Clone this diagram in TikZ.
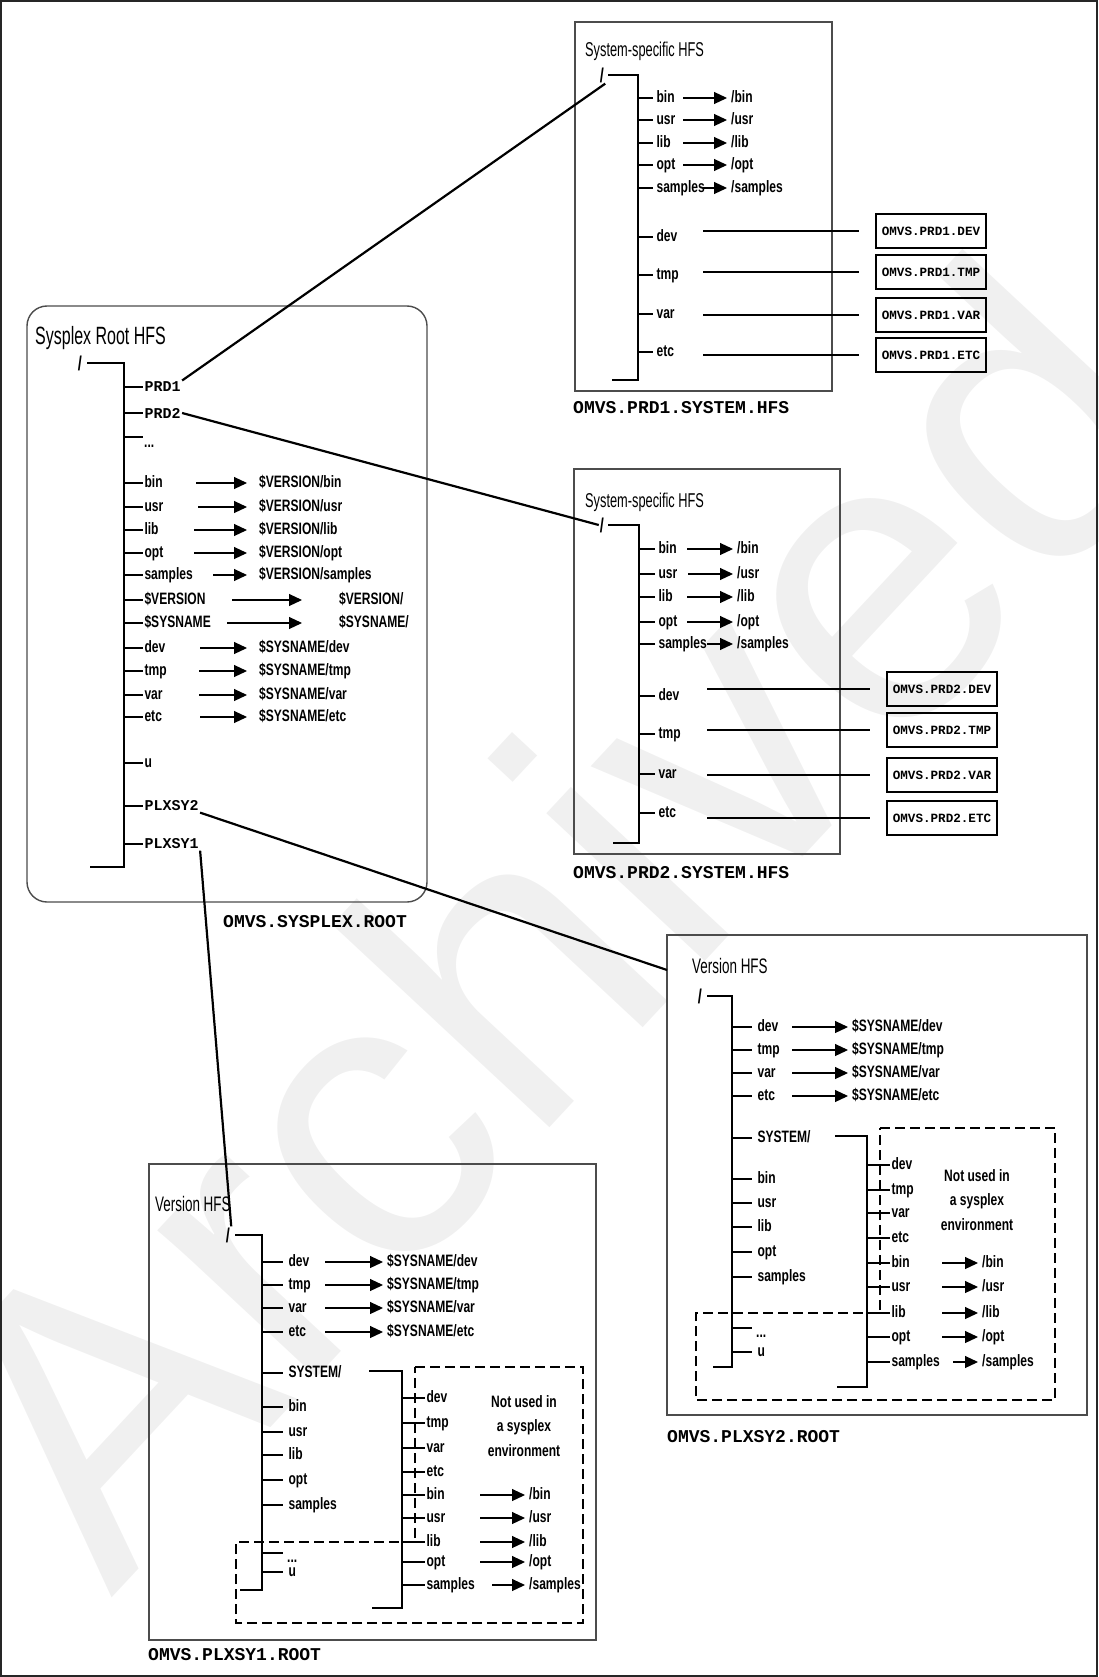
\documentclass[tikz,border=0pt]{standalone}
\usepackage{fontspec}
\setmonofont{Liberation Mono}
\newfontfamily\narrowsf[FakeStretch=0.73]{Liberation Sans}
\newfontfamily\handsf[FakeStretch=0.64]{Liberation Sans}
\newfontfamily\marksf{Liberation Sans}
\usetikzlibrary{arrows.meta}

\begin{document}
\begin{tikzpicture}[
  x=1pt, y=-1pt,
  hfsframe/.style={draw=black!70, line width=1.4pt},
  trunk/.style={line width=2.6pt},
  twig/.style={line width=1.1pt},
  mountline/.style={line width=2.2pt},
  arr/.style={-{Triangle[length=13pt,width=12pt]}, line width=1.1pt, shorten >=3pt},
  dirname/.style={anchor=west, inner sep=1pt, text height=12pt, text depth=3.5pt,
    font=\narrowsf\bfseries\fontsize{16.5}{18}\selectfont},
  dsn/.style={anchor=west, inner sep=1pt, font=\ttfamily\bfseries\fontsize{15}{16}\selectfont},
  hfs/.style={anchor=base west, inner sep=0pt, font=\handsf\fontsize{20}{21}\selectfont},
  slash/.style={inner sep=1pt, font=\narrowsf\bfseries\fontsize{20}{20}\selectfont},
  dsbox/.style={draw, line width=1.3pt, minimum width=110pt, minimum height=34pt, inner sep=0pt,
    font=\ttfamily\bfseries\fontsize{12.6}{13}\selectfont},
  hfsname/.style={anchor=west, inner sep=0pt, font=\ttfamily\bfseries\fontsize{18}{18}\selectfont},
  notused/.style={align=center, inner sep=0pt, font=\narrowsf\bfseries\fontsize{16.5}{24.5}\selectfont},
  unused/.style={dash pattern=on 10pt off 5pt, line width=2pt},
  watermark/.style={rotate=47, text=black!6, inner sep=0pt, font=\marksf\fontsize{410}{410}\selectfont}
]
\useasboundingbox (0,0) rectangle (1098,1677);
\node[watermark] (mark) at (548,915) {Archived};
\draw[hfsframe, draw=black!85] (1,1) rectangle (1097,1676);

\draw[hfsframe, rounded corners=20pt] (27,306) rectangle (427,902);
\node[hfs, font=\handsf\fontsize{25}{26}\selectfont] (r-title) at (35,344) {Sysplex Root HFS};
\node[slash] (r-root) at (80,363) {/};
\coordinate (r-bot) at (124,867);
\draw[trunk] ([xshift=4pt]r-root.east) -| (r-bot) -- ++(-34,0);
\foreach \n/\yy in {bin/483, usr/507, lib/530, opt/553, samples/575, dev/648, tmp/671, var/695, etc/717, u/763}
  \draw[twig] (124,\yy) -- ++(19,0) node[dirname] (r-\n) {\n};
\foreach \n/\t/\yy in {prd1/PRD1/387, prd2/PRD2/413, plx2/PLXSY2/806, plx1/PLXSY1/844}
  \draw[twig] (124,\yy) -- ++(19,0) node[dsn] (r-\n) {\t};
\draw[twig] (124,437) -- ++(19,0);
\node[dirname] (r-more) at (143,443) {...};
\draw[twig] (124,600) -- ++(19,0) node[dirname] (r-ver) {\$VERSION};
\draw[twig] (124,623) -- ++(19,0) node[dirname] (r-sys) {\$SYSNAME};
\foreach \n/\yy/\x in {bin/483/196, usr/507/198, lib/530/194, opt/553/194, samples/575/213} {
  \node[dirname] (rt-\n) at (258,\yy) {\$VERSION/\n};
  \coordinate (ra-\n) at (\x,\yy);
  \draw[arr, shorten >=11pt] (ra-\n) -- (rt-\n);
}
\foreach \n/\yy/\x in {dev/648/200, tmp/671/199, var/695/199, etc/717/200} {
  \node[dirname] (rt-\n) at (258,\yy) {\$SYSNAME/\n};
  \coordinate (ra-\n) at (\x,\yy);
  \draw[arr, shorten >=11pt] (ra-\n) -- (rt-\n);
}
\node[dirname] (rt-ver) at (338,600) {\$VERSION/};
\node[dirname] (rt-sys) at (338,623) {\$SYSNAME/};
\coordinate (ra-ver) at (232,600);
\coordinate (ra-sys) at (227,623);
\draw[arr, shorten >=36pt] (ra-ver) -- (rt-ver);
\draw[arr, shorten >=36pt] (ra-sys) -- (rt-sys);
\node[hfsname] (r-name) at (223,922) {OMVS.SYSPLEX.ROOT};

\draw[hfsframe] (575,22) rectangle (832,391);
\node[hfs] (p1-title) at (585,57) {System-specific HFS};
\node[slash] (p1-root) at (602,75) {/};
\coordinate (p1-bot) at (638,380);
\draw[trunk] ([xshift=3pt]p1-root.east) -| (p1-bot) -- ++(-26,0);
\foreach \n/\yy/\x in {bin/98/683, usr/120/683, lib/143/683, opt/165/683, samples/188/703} {
  \draw[twig] (638,\yy) -- ++(15,0) node[dirname, xshift=2pt] (p1-\n) {\n};
  \node[dirname] (p1t-\n) at (730,\yy) {/\n};
  \coordinate (p1a-\n) at (\x,\yy);
  \draw[arr] (p1a-\n) -- (p1t-\n);
}
\foreach \n/\ds/\yy/\ly in {dev/DEV/237/231, tmp/TMP/275/272, var/VAR/314/315, etc/ETC/352/355} {
  \draw[twig] (638,\yy) -- ++(15,0) node[dirname, xshift=2pt] (p1-\n) {\n};
  \node[dsbox] (p1d-\n) at (931,\ly) {OMVS.PRD1.\ds};
  \coordinate (p1a-\n) at (703,\ly);
  \draw[twig, shorten >=16pt] (p1a-\n) -- (p1d-\n);
}
\node[hfsname] (p1-name) at (573,408) {OMVS.PRD1.SYSTEM.HFS};

\draw[hfsframe] (574,469) rectangle (840,854);
\node[hfs] (p2-title) at (585,507) {System-specific HFS};
\node[slash] (p2-root) at (602,525) {/};
\coordinate (p2-bot) at (639,843);
\draw[trunk] ([xshift=3pt]p2-root.east) -| (p2-bot) -- ++(-26,0);
\foreach \n/\yy/\x in {bin/549/687, usr/574/688, lib/597/687, opt/622/687, samples/644/707} {
  \draw[twig] (639,\yy) -- ++(16,0) node[dirname, xshift=2pt] (p2-\n) {\n};
  \node[dirname] (p2t-\n) at (736,\yy) {/\n};
  \coordinate (p2a-\n) at (\x,\yy);
  \draw[arr] (p2a-\n) -- (p2t-\n);
}
\foreach \n/\ds/\yy/\ly in {dev/DEV/696/689, tmp/TMP/734/730, var/VAR/774/775, etc/ETC/813/818} {
  \draw[twig] (639,\yy) -- ++(16,0) node[dirname, xshift=2pt] (p2-\n) {\n};
  \node[dsbox] (p2d-\n) at (942,\ly) {OMVS.PRD2.\ds};
  \coordinate (p2a-\n) at (707,\ly);
  \draw[twig, shorten >=16pt] (p2a-\n) -- (p2d-\n);
}
\node[hfsname] (p2-name) at (573,873) {OMVS.PRD2.SYSTEM.HFS};

\draw[hfsframe] (667,935) rectangle (1087,1415);
\node[hfs, font=\handsf\fontsize{21}{22}\selectfont] (x2-title) at (692,973) {Version HFS};
\node[slash] (x2-root) at (700,996) {/};
\coordinate (x2-bot) at (732,1367);
\draw[trunk] ([xshift=4pt]x2-root.east) -| (x2-bot) -- ++(-19,0);
\foreach \n/\yy in {dev/1027, tmp/1050, var/1073, etc/1096} {
  \draw[twig] (732,\yy) -- ++(20,0) node[dirname, xshift=4pt] (x2-\n) {\n};
  \node[dirname] (x2t-\n) at (851,\yy) {\$SYSNAME/\n};
  \coordinate (x2a-\n) at (792,\yy);
  \draw[arr] (x2a-\n) -- (x2t-\n);
}
\foreach \n/\yy in {bin/1179, usr/1203, lib/1227, opt/1252, samples/1277, u/1352}
  \draw[twig] (732,\yy) -- ++(20,0) node[dirname, xshift=4pt] (x2-\n) {\n};
\draw[twig] (732,1328) -- ++(20,0);
\node[dirname] (x2-more) at (755,1333) {...};
\draw[twig] (732,1138) -- ++(20,0) node[dirname, xshift=4pt] (x2-sys) {SYSTEM/};
\coordinate (x2-fork) at (835,1136);
\coordinate (x2-end) at (867,1387);
\draw[trunk] (x2-fork) -| (x2-end) -- ++(-30,0);
\foreach \n/\yy in {dev/1165, tmp/1190, var/1213, etc/1238, bin/1263, usr/1287, lib/1313, opt/1337, samples/1362}
  \draw[twig] (867,\yy) -- ++(23,0) node[dirname] (x2s-\n) {\n};
\foreach \n/\yy/\x in {bin/1263/942, usr/1287/942, lib/1313/942, opt/1337/942, samples/1362/953} {
  \node[dirname] (x2u-\n) at (981,\yy) {/\n};
  \coordinate (x2b-\n) at (\x,\yy);
  \draw[arr] (x2b-\n) -- (x2u-\n);
}
\node[notused] (x2-note) at (977,1200) {Not used in\\a sysplex\\environment};
\draw[unused] (880,1128) -- (1055,1128) -- (1055,1400) -- (696,1400) -- (696,1313) -- (880,1313) -- cycle;
\node[hfsname] (x2-name) at (667,1437) {OMVS.PLXSY2.ROOT};

\draw[hfsframe] (149,1164) rectangle (596,1640);
\node[hfs, font=\handsf\fontsize{21}{22}\selectfont] (x1-title) at (155,1211) {Version HFS};
\node[slash] (x1-root) at (228,1235) {/};
\coordinate (x1-bot) at (262,1590);
\draw[trunk] ([xshift=4pt]x1-root.east) -| (x1-bot) -- ++(-22,0);
\foreach \n/\yy in {dev/1262, tmp/1285, var/1308, etc/1332} {
  \draw[twig] (262,\yy) -- ++(21,0) node[dirname, xshift=4pt] (x1-\n) {\n};
  \node[dirname] (x1t-\n) at (386,\yy) {\$SYSNAME/\n};
  \coordinate (x1a-\n) at (325,\yy);
  \draw[arr] (x1a-\n) -- (x1t-\n);
}
\foreach \n/\yy in {bin/1407, usr/1432, lib/1455, opt/1480, samples/1505, u/1572}
  \draw[twig] (262,\yy) -- ++(21,0) node[dirname, xshift=4pt] (x1-\n) {\n};
\draw[twig] (262,1553) -- ++(21,0);
\node[dirname] (x1-more) at (286,1558) {...};
\draw[twig] (262,1373) -- ++(21,0) node[dirname, xshift=4pt] (x1-sys) {SYSTEM/};
\coordinate (x1-fork) at (369,1371);
\coordinate (x1-end) at (402,1608);
\draw[trunk] (x1-fork) -| (x1-end) -- ++(-30,0);
\foreach \n/\yy in {dev/1398, tmp/1423, var/1448, etc/1472, bin/1495, usr/1518, lib/1542, opt/1562, samples/1585}
  \draw[twig] (402,\yy) -- ++(23,0) node[dirname] (x1s-\n) {\n};
\foreach \n/\yy/\x in {bin/1495/480, usr/1518/480, lib/1542/480, opt/1562/480, samples/1585/492} {
  \node[dirname] (x1u-\n) at (528,\yy) {/\n};
  \coordinate (x1b-\n) at (\x,\yy);
  \draw[arr] (x1b-\n) -- (x1u-\n);
}
\node[notused] (x1-note) at (524,1426) {Not used in\\a sysplex\\environment};
\draw[unused] (415,1367) -- (583,1367) -- (583,1623) -- (236,1623) -- (236,1542) -- (415,1542) -- cycle;
\node[hfsname] (x1-name) at (148,1655) {OMVS.PLXSY1.ROOT};

\coordinate (x2-in) at (667,970);
\draw[mountline] (r-prd1.north east) -- (p1-root.south east);
\draw[mountline] (r-prd2.east) -- (p2-root.west);
\draw[mountline] (r-plx2.south east) -- (x2-in);
\draw[mountline] (r-plx1.south east) -- (x1-root.north east);
\end{tikzpicture}
\end{document}
